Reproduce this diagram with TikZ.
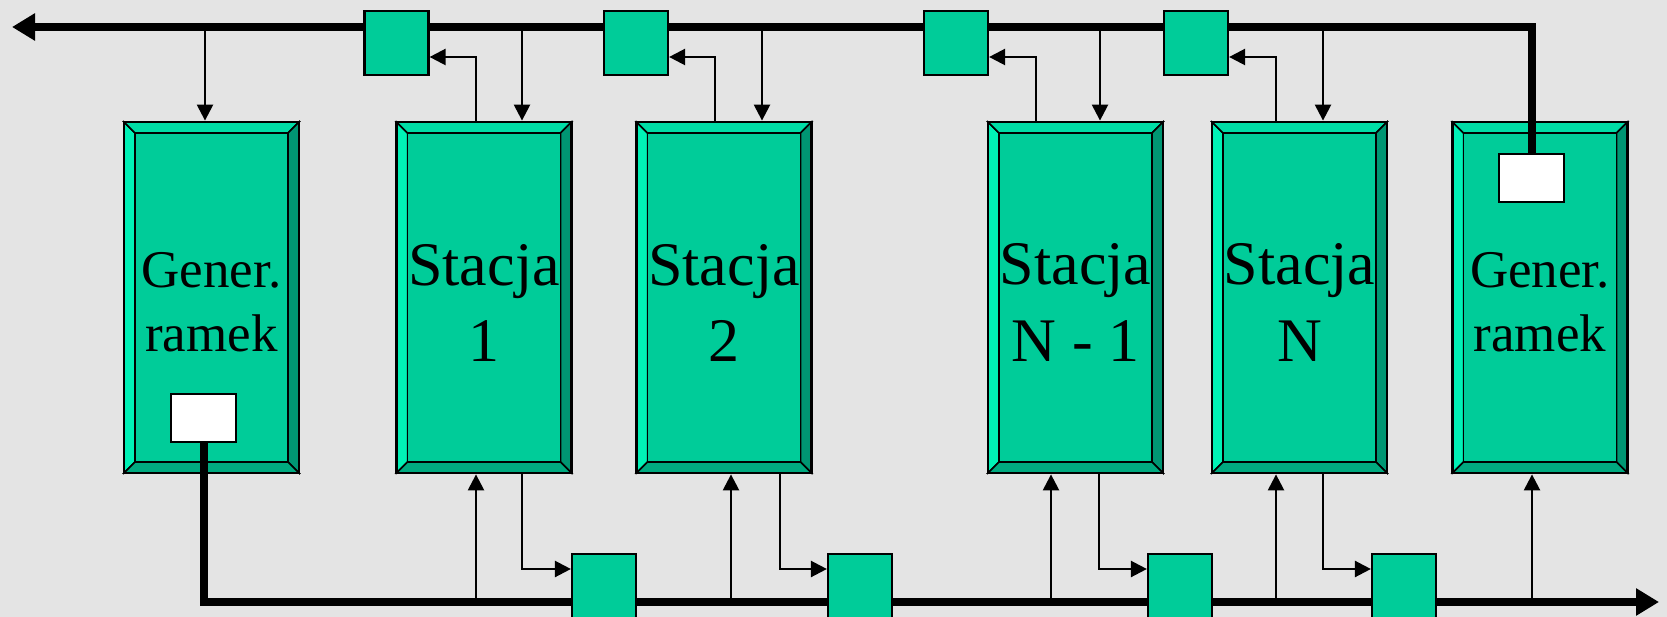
\documentclass[tikz,border=0pt]{standalone}
\usepackage{fontspec}
\setmainfont{Liberation Serif}
\usetikzlibrary{arrows.meta}

\definecolor{bg}{HTML}{E4E4E4}
\definecolor{facemain}{HTML}{00CC99}
\definecolor{faceleft}{HTML}{00F2B6}
\definecolor{facetop}{HTML}{00DDA6}
\definecolor{faceright}{HTML}{009673}
\definecolor{facebottom}{HTML}{00AA80}

% bevelled block: #1 node name, #2 centre x
\newcommand\bevelbox[2]{%
  \pgfmathsetmacro\bxA{#2-87.5}\pgfmathsetmacro\bxB{#2+87.5}%
  \pgfmathsetmacro\bxC{\bxA+11}\pgfmathsetmacro\bxD{\bxB-11}%
  \fill[facemain] (\bxA,122) rectangle (\bxB,473);
  \filldraw[bevel,fill=faceleft]   (\bxA,122) -- (\bxC,133) -- (\bxC,462) -- (\bxA,473) -- cycle;
  \filldraw[bevel,fill=facetop]    (\bxA,122) -- (\bxB,122) -- (\bxD,133) -- (\bxC,133) -- cycle;
  \filldraw[bevel,fill=faceright]  (\bxB,122) -- (\bxB,473) -- (\bxD,462) -- (\bxD,133) -- cycle;
  \filldraw[bevel,fill=facebottom] (\bxA,473) -- (\bxB,473) -- (\bxD,462) -- (\bxC,462) -- cycle;
  \filldraw[bevel,fill=facemain]   (\bxC,133) rectangle (\bxD,462);
  \node[blockframe] (#1) at (#2,297.5) {};
}

\begin{document}
\begin{tikzpicture}[x=1pt,y=-1pt,
  bevel/.style={draw=black,line width=1.5pt,line join=miter},
  blockframe/.style={draw=black,line width=2.8pt,minimum width=175pt,
    minimum height=351pt,inner sep=0pt},
  repeater/.style={draw=black,fill=facemain,line width=2.2pt,
    minimum width=64pt,minimum height=64pt,inner sep=0pt},
  source/.style={draw=black,fill=white,line width=2.2pt,
    minimum width=65pt,minimum height=48pt,inner sep=0pt},
  biglbl/.style={anchor=base,inner sep=0pt,font=\fontsize{62}{74}\selectfont},
  genlbl/.style={anchor=base,inner sep=0pt,font=\fontsize{53}{64}\selectfont},
  sig/.style={line width=2.4pt,-{Triangle[length=16pt,width=16pt]}},
  bus/.style={line width=8pt,line join=miter,-{Triangle[length=23pt,width=26pt]}}]

\useasboundingbox (0,0) rectangle (1667,617);
\fill[bg] (0,0) rectangle (1667,617);

% blocks
\bevelbox{g1}{211.5}
\bevelbox{s1}{484}
\bevelbox{s2}{724}
\bevelbox{s3}{1075.5}
\bevelbox{s4}{1299.5}
\bevelbox{g2}{1540}

% labels
\node[genlbl] (g1a) at (211.5,288) {Gener.};
\node[genlbl] (g1b) at (211.5,352) {ramek};
\node[biglbl] (s1a) at (484,286) {Stacja};
\node[biglbl] (s1b) at (484,362) {1};
\node[biglbl] (s2a) at (724,286) {Stacja};
\node[biglbl] (s2b) at (724,362) {2};
\node[biglbl] (s3a) at (1075.5,285) {Stacja};
\node[biglbl] (s3b) at (1075.5,361) {N - 1};
\node[biglbl] (s4a) at (1299.5,285) {Stacja};
\node[biglbl] (s4b) at (1299.5,361) {N};
\node[genlbl] (g2a) at (1540,288) {Gener.};
\node[genlbl] (g2b) at (1540,352) {ramek};

% frame sources
\node[source] (w1) at (203.5,418) {};
\node[source] (w2) at (1531.5,178) {};

% ring buses
\coordinate (busL) at (12,27);
\coordinate (busR) at (1659,602);
\draw[bus] (w2.north) |- (busL);
\draw[bus] (w1.south) |- (busR);

% taps on the upper bus
\coordinate (t0) at (205,27);
\coordinate (d1) at (522,27);
\coordinate (d2) at (762,27);
\coordinate (d3) at (1100,27);
\coordinate (d4) at (1323,27);
\coordinate (u1) at (476,57);
\coordinate (u2) at (715,57);
\coordinate (u3) at (1036,57);
\coordinate (u4) at (1276,57);

% taps on the lower bus
\coordinate (bu1) at (476,602);
\coordinate (bu2) at (731,602);
\coordinate (bu3) at (1051,602);
\coordinate (bu4) at (1276,602);
\coordinate (bu5) at (1532,602);
\coordinate (bd1) at (522,569);
\coordinate (bd2) at (780,569);
\coordinate (bd3) at (1099,569);
\coordinate (bd4) at (1323,569);

% repeaters
\node[repeater] (q1) at (396.5,43) {};
\node[repeater] (q2) at (636,43) {};
\node[repeater] (q3) at (956,43) {};
\node[repeater] (q4) at (1196,43) {};
\node[repeater] (p1) at (604,586) {};
\node[repeater] (p2) at (860,586) {};
\node[repeater] (p3) at (1180,586) {};
\node[repeater] (p4) at (1404,586) {};

% upper connections
\draw[sig] (t0) -- (t0 |- g1.north);
\draw[sig] (d1) -- (d1 |- s1.north);
\draw[sig] (d2) -- (d2 |- s2.north);
\draw[sig] (d3) -- (d3 |- s3.north);
\draw[sig] (d4) -- (d4 |- s4.north);
\draw[sig] (s1.north -| u1) |- (q1.east |- u1);
\draw[sig] (s2.north -| u2) |- (q2.east |- u2);
\draw[sig] (s3.north -| u3) |- (q3.east |- u3);
\draw[sig] (s4.north -| u4) |- (q4.east |- u4);

% lower connections
\draw[sig] (bu1) -- (bu1 |- s1.south);
\draw[sig] (bu2) -- (bu2 |- s2.south);
\draw[sig] (bu3) -- (bu3 |- s3.south);
\draw[sig] (bu4) -- (bu4 |- s4.south);
\draw[sig] (bu5) -- (bu5 |- g2.south);
\draw[sig] (s1.south -| bd1) |- (p1.west |- bd1);
\draw[sig] (s2.south -| bd2) |- (p2.west |- bd2);
\draw[sig] (s3.south -| bd3) |- (p3.west |- bd3);
\draw[sig] (s4.south -| bd4) |- (p4.west |- bd4);

\end{tikzpicture}
\end{document}
